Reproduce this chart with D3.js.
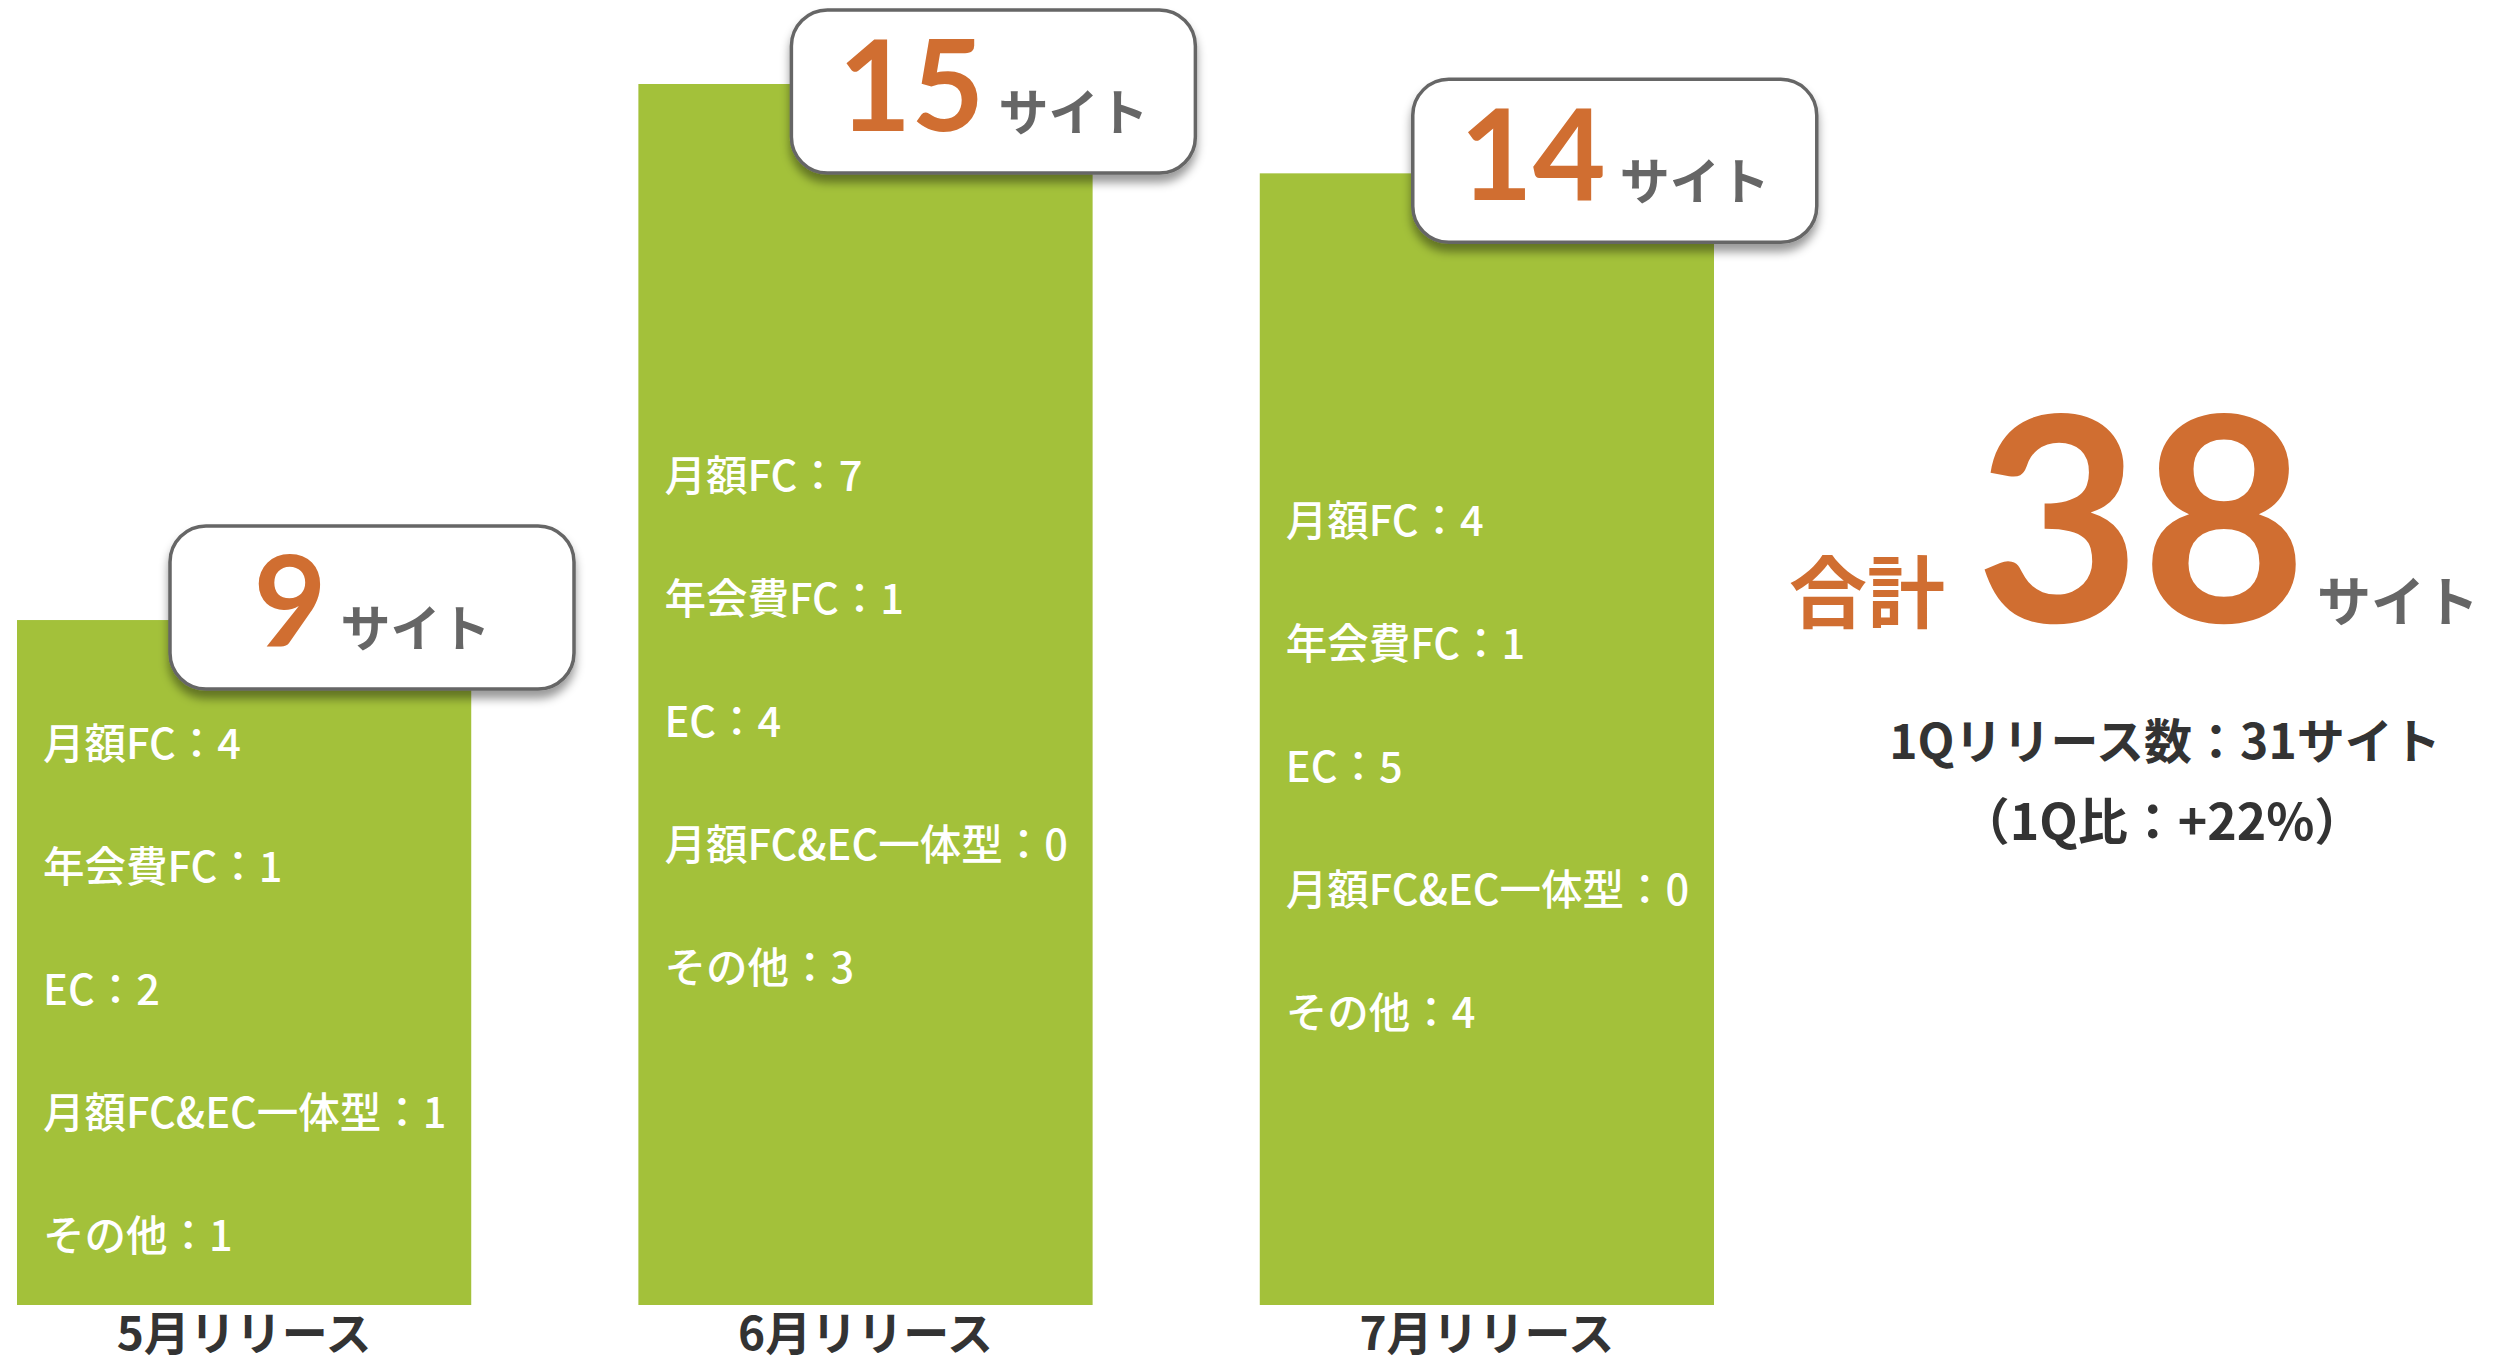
<!DOCTYPE html>
<html>
<head>
<meta charset="utf-8">
<script src="https://cdn.jsdelivr.net/npm/d3@7"></script>
<style>
  html, body { margin: 0; padding: 0; background: #fff; }
  svg { display: block; }
</style>
</head>
<body>
<div id="chart"></div>
<script>
const width = 2504, height = 1366;

// data
const months = ['5月リリース', '6月リリース', '7月リリース'];
const totals = [9, 15, 14];
const categories = ['月額FC', '年会費FC', 'EC', '月額FC&EC一体型', 'その他'];
const mayCounts = [4, 1, 2, 1, 1];
const juneCounts = [7, 1, 4, 0, 3];
const julyCounts = [4, 1, 5, 0, 4];
const breakdown = [mayCounts, juneCounts, julyCounts];
const unit = 'サイト';
const totalLabel = '合計';
const quarterLine1 = '1Qリリース数：31サイト';
const quarterLine2 = '（1Q比：+22%）';

const green = '#a3c13a';
const orange = '#d06e31';
const grey = '#666666';
const dark = '#333333';
const jp = '"Noto Sans CJK JP", "Noto Sans", sans-serif';
const num = 'Lato, "Noto Sans", sans-serif';

const svg = d3.select('#chart').append('svg')
  .attr('width', width)
  .attr('height', height);

// shadow under the callout boxes
const defs = svg.append('defs');
defs.append('filter')
  .attr('id', 'shadow')
  .attr('x', '-10%').attr('y', '-10%')
  .attr('width', '120%').attr('height', '140%')
  .append('feDropShadow')
  .attr('dx', 0).attr('dy', 8)
  .attr('stdDeviation', 5)
  .attr('flood-color', '#000')
  .attr('flood-opacity', 0.4);

const baseline = 1305;

const x = d3.scaleBand()
  .domain(months)
  .range([17, 1714])
  .paddingInner(0.269)
  .paddingOuter(0);

// axis is cut, bars do not start at zero (as in the original slide)
const y = d3.scaleLinear()
  .domain([4 / 3, 15])
  .range([baseline, 84]);

const bars = svg.append('g').selectAll('g')
  .data(months.map((m, i) => ({month: m, total: totals[i], counts: breakdown[i]})))
  .join('g');

bars.append('rect')
  .attr('x', d => x(d.month))
  .attr('y', d => y(d.total))
  .attr('width', x.bandwidth())
  .attr('height', d => baseline - y(d.total))
  .attr('fill', green);

// breakdown text inside each bar
const lineGap = 123;
bars.each(function(d) {
  const g = d3.select(this);
  const mid = (y(d.total) + baseline) / 2 + 28;
  const first = mid - (categories.length - 1) / 2 * lineGap;
  g.selectAll('text.item')
    .data(categories.map((c, j) => `${c}：${d.counts[j]}`))
    .join('text')
    .attr('class', 'item')
    .attr('x', x(d.month) + 26)
    .attr('y', (t, j) => first + j * lineGap)
    .attr('dy', '0.36em')
    .attr('fill', '#fff')
    .style('font-family', jp)
    .style('font-weight', 500)
    .style('font-size', '41.5px')
    .text(t => t);
});

// month labels
bars.append('text')
  .attr('x', d => x(d.month) + x.bandwidth() / 2)
  .attr('y', 1350)
  .attr('text-anchor', 'middle')
  .attr('fill', dark)
  .style('font-family', jp)
  .style('font-weight', 700)
  .style('font-size', '46px')
  .text(d => d.month);

// callout boxes
const boxW = 404, boxH = 163;
const boxes = bars.append('g')
  .attr('transform', d => `translate(${x(d.month) + 153},${Math.max(y(d.total) - 94, 10)})`);

boxes.append('rect')
  .attr('width', boxW)
  .attr('height', boxH)
  .attr('rx', 36)
  .attr('fill', '#fff')
  .attr('stroke', grey)
  .attr('stroke-width', 3.5)
  .attr('filter', 'url(#shadow)');

const boxText = boxes.append('text')
  .attr('x', boxW / 2)
  .attr('y', 121)
  .attr('text-anchor', 'middle');
boxText.append('tspan')
  .attr('fill', orange)
  .style('font-family', num)
  .style('font-weight', 700)
  .style('font-size', '126px')
  .text(d => d.total);
boxText.append('tspan')
  .attr('dx', 14)
  .attr('fill', grey)
  .style('font-family', jp)
  .style('font-weight', 700)
  .style('font-size', '50px')
  .text(unit);

// total on the right
const total = svg.append('text')
  .attr('x', 2134)
  .attr('y', 622)
  .attr('text-anchor', 'middle');
total.append('tspan')
  .attr('fill', orange)
  .style('font-family', jp)
  .style('font-weight', 700)
  .style('font-size', '78px')
  .text(totalLabel);
total.append('tspan')
  .attr('dx', 30)
  .attr('fill', orange)
  .style('font-family', num)
  .style('font-weight', 700)
  .style('font-size', '286px')
  .text(d3.sum(totals));
total.append('tspan')
  .attr('dx', 10)
  .attr('fill', grey)
  .style('font-family', jp)
  .style('font-weight', 700)
  .style('font-size', '54px')
  .text(unit);

svg.append('text')
  .attr('x', 2165)
  .attr('y', 759)
  .attr('text-anchor', 'middle')
  .attr('fill', dark)
  .style('font-family', jp)
  .style('font-weight', 700)
  .style('font-size', '48px')
  .text(quarterLine1);

svg.append('text')
  .attr('x', 2162)
  .attr('y', 840)
  .attr('text-anchor', 'middle')
  .attr('fill', dark)
  .style('font-family', jp)
  .style('font-weight', 700)
  .style('font-size', '50px')
  .text(quarterLine2);
</script>
</body>
</html>
